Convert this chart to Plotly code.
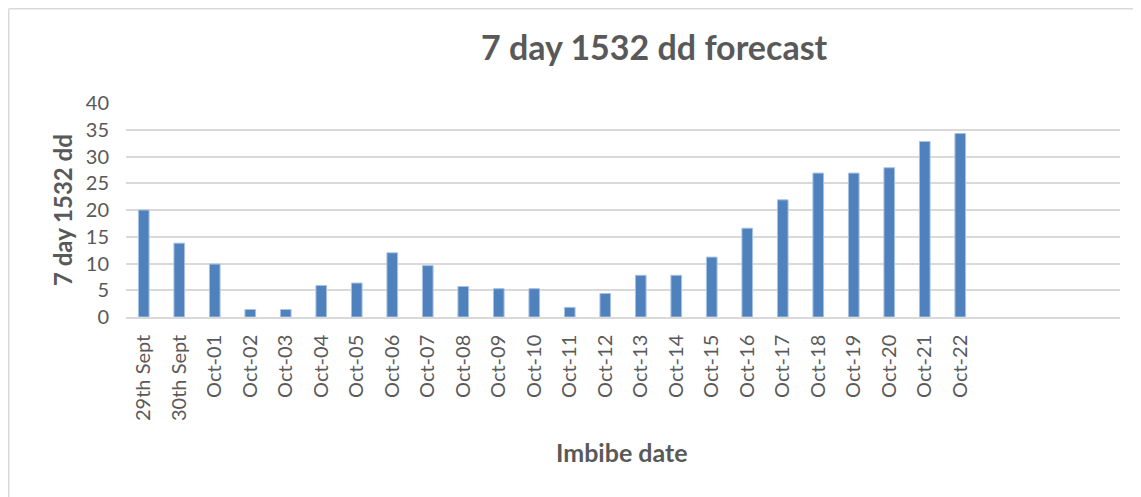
import plotly.graph_objects as go

categories = ["29th Sept", "30th Sept", "Oct-01", "Oct-02", "Oct-03", "Oct-04", "Oct-05",
              "Oct-06", "Oct-07", "Oct-08", "Oct-09", "Oct-10", "Oct-11", "Oct-12",
              "Oct-13", "Oct-14", "Oct-15", "Oct-16", "Oct-17", "Oct-18", "Oct-19",
              "Oct-20", "Oct-21", "Oct-22"]
values = [20, 13.8, 9.9, 1.4, 1.4, 5.9, 6.35, 12.0, 9.6, 5.7, 5.3, 5.3, 1.8, 4.4,
          7.8, 7.8, 11.2, 16.6, 21.9, 26.9, 26.9, 27.9, 32.8, 34.3]
y_ticks = [0, 5, 10, 15, 20, 25, 30, 35, 40]
n_slots = 28  # axis has room for 28 categories, last ones empty

# page has an 8px body margin, so the figure is drawn 8px in and down
OFF = 8
W, H = 1141 - OFF, 497 - OFF
L, R, T, B = 126 - OFF, 21, 103 - OFF, 180
pw, ph = W - L - R, H - T - B

FONT = "Lato"
GREY = "#595959"

fig = go.Figure(go.Bar(x=categories, y=values,
                       marker=dict(color="#4f81bd", line=dict(width=1, color="#a9c2e3"))))

def px_x(x):  # page pixel -> paper
    return (x - OFF - L) / pw

def px_y(y):
    return 1 - (y - OFF - T) / ph

fig.update_layout(
    width=W, height=H,
    margin=dict(l=L, r=R, t=T, b=B),
    plot_bgcolor="white", paper_bgcolor="white",
    bargap=0.7,
    showlegend=False,
    font=dict(family=FONT, color=GREY, size=20),
    xaxis=dict(type="category", range=[-0.5, n_slots - 0.5], tickangle=-90,
               showgrid=False, showline=True, linecolor="#d9d9d9", linewidth=1.5,
               ticks="", ticklabelstandoff=8,
               tickfont=dict(size=20, color=GREY, family=FONT)),
    yaxis=dict(range=[0, 40], tickvals=y_ticks, showgrid=True, gridcolor="#d9d9d9",
               gridwidth=1.5, zeroline=False, ticks="", ticklabelstandoff=16,
               tickfont=dict(size=20, color=GREY, family=FONT)),
    annotations=[
        dict(text="<b>7 day 1532 dd forecast</b>", x=px_x(654), y=px_y(47), xref="paper", yref="paper",
             showarrow=False, font=dict(size=34, color=GREY, family=FONT),
             xanchor="center", yanchor="middle"),
        dict(text="<b>7 day 1532 dd</b>", x=px_x(62), y=px_y(210), xref="paper", yref="paper",
             showarrow=False, textangle=-90, font=dict(size=24, color=GREY, family=FONT),
             xanchor="center", yanchor="middle"),
        dict(text="<b>Imbibe date</b>", x=px_x(622), y=px_y(452), xref="paper", yref="paper",
             showarrow=False, font=dict(size=25, color=GREY, family=FONT),
             xanchor="center", yanchor="middle"),
    ],
    shapes=[
        dict(type="line", xref="paper", yref="paper", x0=px_x(OFF + 0.75), x1=px_x(OFF + 0.75),
             y0=px_y(OFF + 0.75), y1=px_y(600), line=dict(color="#d9d9d9", width=1.5)),
        dict(type="line", xref="paper", yref="paper", x0=px_x(OFF + 0.75), x1=px_x(1300),
             y0=px_y(OFF + 0.75), y1=px_y(OFF + 0.75), line=dict(color="#d9d9d9", width=1.5)),
    ],
)

fig.write_html("out.html")
